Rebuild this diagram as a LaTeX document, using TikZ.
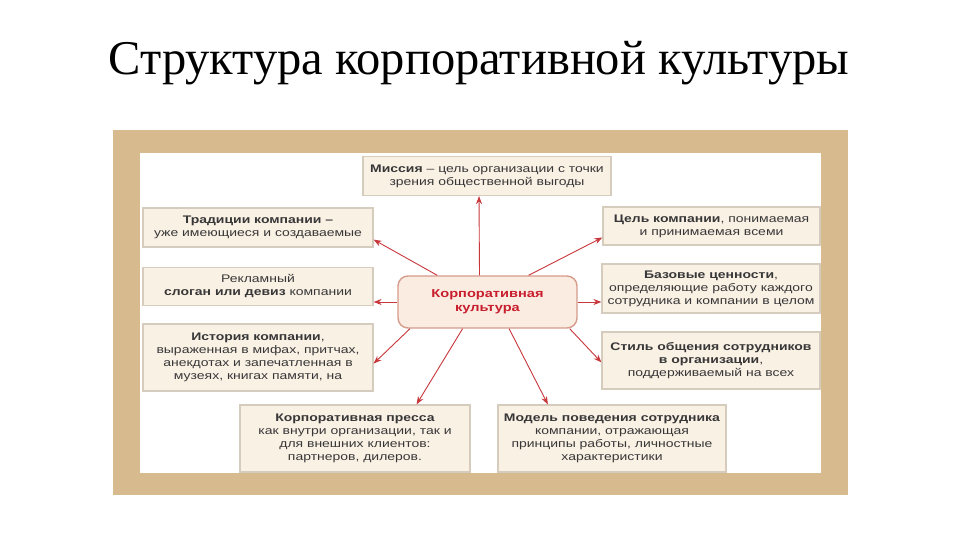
\documentclass[tikz,border=0pt]{standalone}
\usepackage{fontspec}
\setmainfont{Liberation Serif}
\newfontfamily\boxfont[FakeStretch=1.27]{Liberation Sans}
\usepackage{xcolor}
\usepackage{tikz}
\usetikzlibrary{arrows.meta}
\definecolor{frametan}{RGB}{215, 186, 142}
\definecolor{boxfill}{RGB}{250, 241, 229}
\definecolor{boxline}{RGB}{214, 204, 190}
\definecolor{corefill}{RGB}{251, 236, 226}
\definecolor{coreline}{RGB}{214, 156, 140}
\definecolor{arrowred}{RGB}{200, 55, 60}
\definecolor{textgray}{RGB}{55, 55, 55}
\definecolor{corered}{RGB}{200, 30, 45}

\begin{document}
\begin{tikzpicture}[x=1pt, y=-1pt,
        itembox/.style={rectangle, draw=boxline, fill=boxfill, line width=1.2pt, align=center, inner sep=2pt, text=textgray, font=\boxfont\fontsize{11}{13}\selectfont},
        corebox/.style={rectangle, rounded corners=10pt, draw=coreline, fill=corefill, line width=1.4pt, minimum width=179pt, minimum height=52pt, align=center, text=corered, font=\boxfont\fontsize{11.5}{14}\selectfont\bfseries},
        arrow/.style={-{Stealth[length=8pt, width=6pt]}, line width=0.9pt, color=arrowred}
    ]
        \useasboundingbox (0,0) rectangle (960,540);
        \node (title) at (479,63) {\fontsize{48.5}{54}\selectfont Структура корпоративной культуры};

        % frame
        \fill[frametan] (113,130) rectangle (848,495);
        \fill[white] (140,153) rectangle (821,473);

        \node[corebox] (core) at (487.5,302) {Корпоративная\\культура};

        \node[itembox, minimum width=248pt, minimum height=39pt] (mission) at (487,176) {\textbf{Миссия} – цель организации с точки\\зрения общественной выгоды};
        \node[itembox, minimum width=230pt, minimum height=39pt] (tradition) at (258,227.5) {\textbf{Традиции компании –}\\уже имеющиеся и создаваемые};
        \node[itembox, minimum width=230pt, minimum height=38pt] (slogan) at (258,286.5) {Рекламный\\\textbf{слоган или девиз} компании};
        \node[itembox, minimum width=230pt, minimum height=67pt] (history) at (258,357.5) {\textbf{История компании},\\выраженная в мифах, притчах,\\анекдотах и запечатленная в\\музеях, книгах памяти, на};
        \node[itembox, minimum width=217pt, minimum height=38pt] (goal) at (711.5,226) {\textbf{Цель компании}, понимаемая\\и принимаемая всеми};
        \node[itembox, minimum width=218pt, minimum height=49pt] (values) at (711,288.5) {\textbf{Базовые ценности},\\определяющие работу каждого\\сотрудника и компании в целом};
        \node[itembox, minimum width=218pt, minimum height=57pt] (style) at (711,360.5) {\textbf{Стиль общения сотрудников}\\\textbf{в организации},\\поддерживаемый на всех};
        \node[itembox, minimum width=230pt, minimum height=67pt] (press) at (355,438.5) {\textbf{Корпоративная пресса}\\как внутри организации, так и\\для внешних клиентов:\\партнеров, дилеров.};
        \node[itembox, minimum width=228pt, minimum height=67pt] (model) at (612,438.5) {\textbf{Модель поведения сотрудника}\\компании, отражающая\\принципы работы, личностные\\характеристики};

        \draw[arrow] ([xshift=-8pt]core.north) -- ([xshift=-8pt]mission.south);
        \draw[arrow] (core.152) -- (tradition.-6);
        \draw[arrow] (core.33) -- (goal.186);
        \draw[arrow] (core.west) -- (core.west -| slogan.east);
        \draw[arrow] (core.east) -- (core.east -| values.west);
        \draw[arrow] (core.199) -- (history.-3);
        \draw[arrow] (core.-18.5) -- (style.181);
        \draw[arrow] (core.227) -- (press.29);
        \draw[arrow] (core.-51.5) -- (model.152);
    \end{tikzpicture}
\end{document}
